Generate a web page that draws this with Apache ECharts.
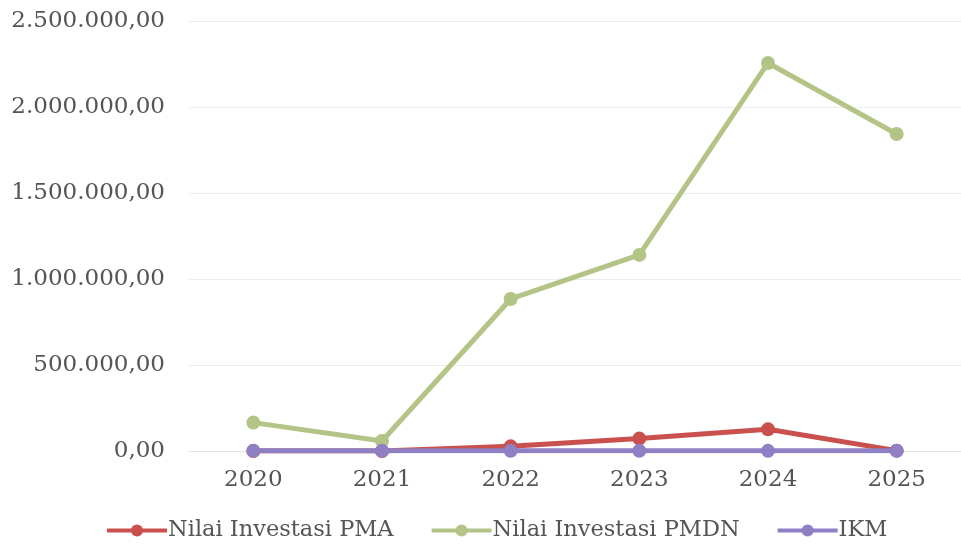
<!DOCTYPE html>
<html><head><meta charset="utf-8">
<script src="https://cdn.jsdelivr.net/npm/echarts@6/dist/echarts.min.js"></script>
<style>html,body{margin:0;padding:0;background:#fff}#c{width:961px;height:546px}</style>
</head><body><div id="c"></div>
<script>
const categories = ['2020','2021','2022','2023','2024','2025'];
const pma = [0, 0, 27000, 72000, 126000, 2000];
const pmdn = [165000, 58000, 884000, 1140000, 2256000, 1843000];
const ikm = [1000, 1000, 1000, 1000, 1000, 1000];
const seriesNames = ['Nilai Investasi PMA', 'Nilai Investasi PMDN', 'IKM'];

const font = 'DejaVu Serif';
function fmt(v){
  const s = Math.round(v).toString().replace(/\B(?=(\d{3})+(?!\d))/g, '.');
  return s + ',00';
}
const chart = echarts.init(document.getElementById('c'));
const colors = ['#c9504d', '#b4c487', '#8f7fc4'];
function mk(name, data, color){
  return {name, type:'line', data, color, symbol:'circle', symbolSize:14,
    lineStyle:{width:5, color}, itemStyle:{color}};
}
chart.setOption({
  animation:false,
  textStyle:{fontFamily:font},
  grid:{left:189, right:-2, top:21, bottom:95},
  xAxis:{type:'category', data:categories, boundaryGap:true,
    axisLine:{lineStyle:{color:'#e2e2e2'}}, axisTick:{show:false},
    axisLabel:{color:'#555', fontSize:23, fontFamily:font, margin:18}},
  yAxis:{type:'value', min:0, max:2500000, interval:500000,
    axisLine:{show:false}, axisTick:{show:false},
    splitLine:{lineStyle:{color:'#ececec'}},
    axisLabel:{color:'#555', fontSize:23, fontFamily:font, margin:24, formatter:fmt}},
  legend:{bottom:-1, left:100, itemWidth:60, itemHeight:15, itemGap:36,
    lineStyle:{width:4},
    textStyle:{color:'#555', fontSize:22.5, fontFamily:font, padding:[0,0,0,-4]},
    data:seriesNames},
  series:[mk(seriesNames[0], pma, colors[0]), mk(seriesNames[1], pmdn, colors[1]), mk(seriesNames[2], ikm, colors[2])]
});
</script></body></html>
